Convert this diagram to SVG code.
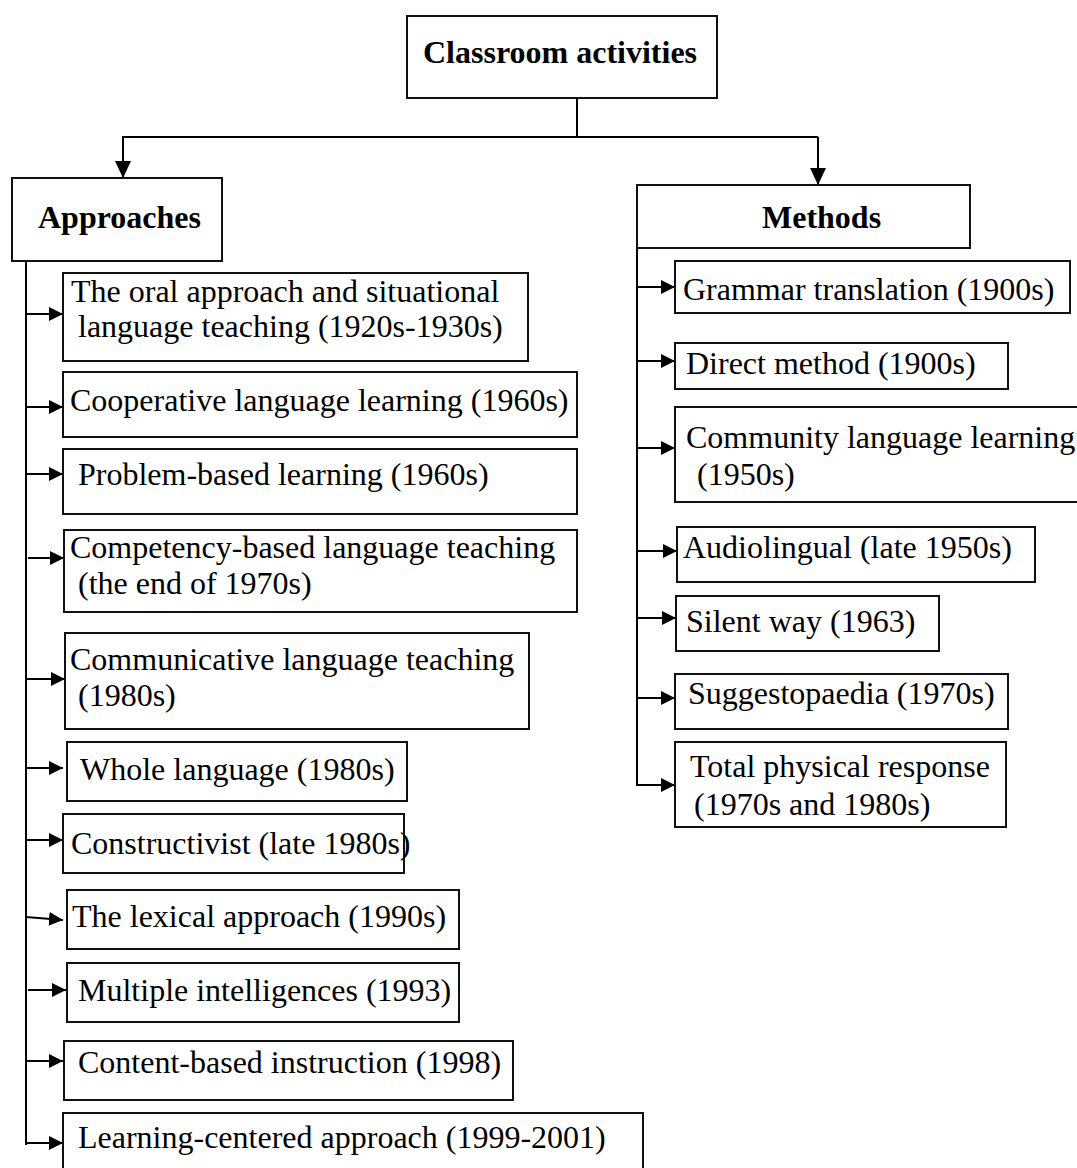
<svg xmlns="http://www.w3.org/2000/svg" width="1077" height="1168" viewBox="0 0 1077 1168">
  <defs>
    <marker id="arrow" markerUnits="userSpaceOnUse" viewBox="0 0 14 14" refX="14" refY="7" markerWidth="14" markerHeight="14" orient="auto">
      <path d="M0,0 L14,7 L0,14 Z" fill="#000"/>
    </marker>
    <marker id="arrowDown" markerUnits="userSpaceOnUse" viewBox="0 0 17 16" refX="17" refY="8" markerWidth="17" markerHeight="16" orient="auto">
      <path d="M0,0 L17,8 L0,16 Z" fill="#000"/>
    </marker>
  </defs>
  <style>
    rect { fill: #fff; stroke: #111; stroke-width: 2; }
    text { font-family: "Liberation Serif", "Times New Roman", serif; font-size: 32px; fill: #000; }
    .head { font-weight: bold; }
    .link { fill: none; stroke: #000; stroke-width: 2; }
    .arr { marker-end: url(#arrow); }
    .arrd { marker-end: url(#arrowDown); }
  </style>
  <rect width="1077" height="1168" style="fill:#fff;stroke:none"/>

  <!-- connectors -->
  <g id="connectors">
    <polyline class="link" points="577,98 577,137"/>
    <polyline class="link arrd" points="818,137 123,137 123,178"/>
    <polyline class="link arrd" points="818,137 818,185"/>
    <!-- approaches trunk -->
    <line class="link" x1="26" y1="261" x2="26" y2="1145"/>
    <line class="link arr" x1="26" y1="314" x2="63" y2="314"/>
    <line class="link arr" x1="26" y1="407" x2="63" y2="407"/>
    <line class="link arr" x1="26" y1="474" x2="63" y2="474"/>
    <line class="link arr" x1="28" y1="558" x2="64" y2="558"/>
    <line class="link arr" x1="26" y1="679" x2="65" y2="679"/>
    <line class="link arr" x1="26" y1="768" x2="63" y2="768"/>
    <line class="link arr" x1="26" y1="840" x2="63" y2="840"/>
    <line class="link arr" x1="26" y1="917" x2="63" y2="920"/>
    <line class="link arr" x1="28" y1="990" x2="66" y2="990"/>
    <line class="link arr" x1="26" y1="1061" x2="63" y2="1061"/>
    <line class="link arr" x1="26" y1="1143" x2="63" y2="1143"/>
    <!-- methods trunk -->
    <line class="link" x1="637" y1="248" x2="637" y2="786"/>
    <line class="link arr" x1="637" y1="287" x2="675" y2="287"/>
    <line class="link arr" x1="637" y1="361" x2="675" y2="361"/>
    <line class="link arr" x1="637" y1="448" x2="675" y2="448"/>
    <line class="link arr" x1="637" y1="551" x2="677" y2="551"/>
    <line class="link arr" x1="637" y1="618" x2="676" y2="618"/>
    <line class="link arr" x1="637" y1="698" x2="675" y2="698"/>
    <line class="link arr" x1="637" y1="785" x2="675" y2="785"/>
  </g>

  <!-- root -->
  <g id="root">
    <rect x="407" y="16" width="310" height="82"/>
    <text class="head" x="423" y="63">Classroom activities</text>
  </g>

  <!-- approaches branch -->
  <g id="approaches">
    <rect x="12" y="178" width="210" height="83"/>
    <text class="head" x="38" y="228">Approaches</text>
  </g>
  <g id="a-oral">
    <rect x="63" y="273" width="465" height="88"/>
    <text x="71" y="302">The oral approach and situational</text>
    <text x="78" y="337">language teaching (1920s-1930s)</text>
  </g>
  <g id="a-cooperative">
    <rect x="63" y="372" width="514" height="65"/>
    <text x="70" y="411">Cooperative language learning (1960s)</text>
  </g>
  <g id="a-problem">
    <rect x="63" y="449" width="514" height="65"/>
    <text x="78" y="485">Problem-based learning (1960s)</text>
  </g>
  <g id="a-competency">
    <rect x="64" y="530" width="513" height="82"/>
    <text x="70" y="558">Competency-based language teaching</text>
    <text x="78" y="594">(the end of 1970s)</text>
  </g>
  <g id="a-communicative">
    <rect x="65" y="633" width="464" height="96"/>
    <text x="70" y="670">Communicative language teaching</text>
    <text x="78" y="706">(1980s)</text>
  </g>
  <g id="a-whole">
    <rect x="67" y="742" width="340" height="59"/>
    <text x="80" y="780">Whole language (1980s)</text>
  </g>
  <g id="a-constructivist">
    <rect x="63" y="814" width="341" height="59"/>
    <text x="71" y="854">Constructivist (late 1980s)</text>
  </g>
  <g id="a-lexical">
    <rect x="67" y="890" width="392" height="59"/>
    <text x="72" y="927">The lexical approach (1990s)</text>
  </g>
  <g id="a-multiple">
    <rect x="67" y="963" width="392" height="59"/>
    <text x="78" y="1001">Multiple intelligences (1993)</text>
  </g>
  <g id="a-content">
    <rect x="64" y="1041" width="449" height="59"/>
    <text x="78" y="1073">Content-based instruction (1998)</text>
  </g>
  <g id="a-learning">
    <rect x="63" y="1113" width="580" height="70"/>
    <text x="78" y="1148">Learning-centered approach (1999-2001)</text>
  </g>

  <!-- methods branch -->
  <g id="methods">
    <rect x="637" y="185" width="333" height="63"/>
    <text class="head" x="762" y="228">Methods</text>
  </g>
  <g id="m-grammar">
    <rect x="675" y="261" width="395" height="52"/>
    <text x="683" y="300">Grammar translation (1900s)</text>
  </g>
  <g id="m-direct">
    <rect x="675" y="343" width="333" height="46"/>
    <text x="686" y="374">Direct method (1900s)</text>
  </g>
  <g id="m-community">
    <rect x="675" y="407" width="410" height="95"/>
    <text x="686" y="448">Community language learning</text>
    <text x="697" y="485">(1950s)</text>
  </g>
  <g id="m-audiolingual">
    <rect x="677" y="527" width="358" height="55"/>
    <text x="683" y="558">Audiolingual (late 1950s)</text>
  </g>
  <g id="m-silent">
    <rect x="676" y="596" width="263" height="55"/>
    <text x="686" y="632">Silent way (1963)</text>
  </g>
  <g id="m-suggestopaedia">
    <rect x="675" y="674" width="333" height="55"/>
    <text x="688" y="704">Suggestopaedia (1970s)</text>
  </g>
  <g id="m-tpr">
    <rect x="675" y="742" width="331" height="85"/>
    <text x="690" y="777">Total physical response</text>
    <text x="694" y="815">(1970s and 1980s)</text>
  </g>
</svg>
